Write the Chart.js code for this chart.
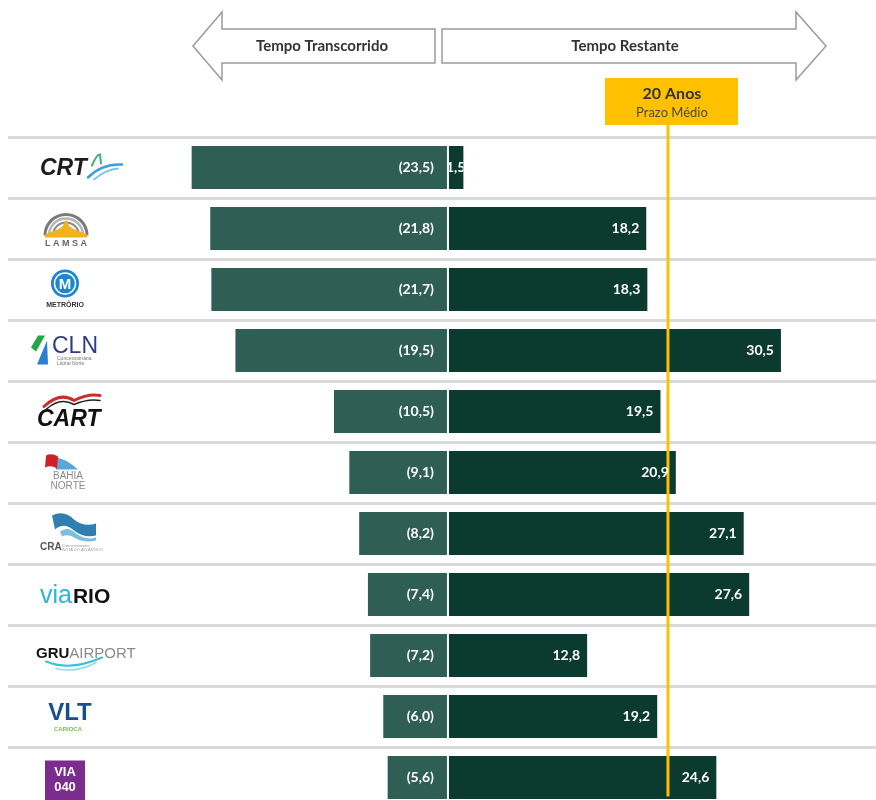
<!DOCTYPE html>
<html><head><meta charset="utf-8">
<script src="https://cdn.jsdelivr.net/npm/chart.js@4"></script>
<style>
html,body{margin:0;padding:0;background:#fff;overflow:hidden;height:800px}
#wrap{width:876px;height:800px;overflow:hidden;position:relative}
canvas{display:block}
</style></head><body><div id="wrap"><canvas id="c" width="876" height="808"></canvas></div>
<script>
const companies = ['CRT','LAMSA','MetrôRio','CLN','CART','Bahia Norte','CRA','ViaRio','GRU Airport','VLT Carioca','Via 040'];
const elapsedYears = [23.5,21.8,21.7,19.5,10.5,9.1,8.2,7.4,7.2,6.0,5.6];
const remainingYears = [1.5,18.2,18.3,30.5,19.5,20.9,27.1,27.6,12.8,19.2,24.6];
const averageTerm = 20;
const headerLabels = ['Tempo Transcorrido','Tempo Restante'];
const averageLabel = ['20 Anos','Prazo Médio'];

const fmt = v => v.toFixed(1).replace('.', ',');

function drawLogo(ctx, i, cy) {
  ctx.save();
  ctx.textBaseline = 'middle';
  ctx.textAlign = 'left';
  const F = '"Liberation Sans", Arial, sans-serif';
  switch (i) {
    case 0: { // CRT
      ctx.fillStyle = '#1d1d1d';
      ctx.font = 'italic bold 23px ' + F;
      ctx.fillText('CRT', 40, cy + 1);
      ctx.lineCap = 'round';
      ctx.strokeStyle = '#3a9fd8'; ctx.lineWidth = 2.5;
      ctx.beginPath(); ctx.moveTo(88, cy + 10); ctx.quadraticCurveTo(102, cy - 4, 122, cy - 3); ctx.stroke();
      ctx.strokeStyle = '#7cc3ea'; ctx.lineWidth = 1.8;
      ctx.beginPath(); ctx.moveTo(94, cy + 12); ctx.quadraticCurveTo(106, cy + 2, 118, cy + 1); ctx.stroke();
      ctx.strokeStyle = '#3bb273'; ctx.lineWidth = 2;
      ctx.beginPath(); ctx.moveTo(92, cy - 2); ctx.quadraticCurveTo(97, cy - 14, 100, cy - 13); ctx.lineTo(101, cy - 4); ctx.stroke();
      break;
    }
    case 1: { // LAMSA
      const x = 66, y = cy + 7;
      [[21, '#7a7a7a', 3], [17, '#b5b5b5', 2.5], [13, '#8a8a8a', 2], [9, '#c5c5c5', 2]].forEach(([r, c, lw]) => {
        ctx.strokeStyle = c; ctx.lineWidth = lw;
        ctx.beginPath(); ctx.arc(x, y, r, Math.PI, 2 * Math.PI); ctx.stroke();
      });
      ctx.fillStyle = '#f2b21b';
      ctx.beginPath(); ctx.moveTo(45, y - 1); ctx.lineTo(62, y - 8); ctx.lineTo(66, y - 16); ctx.lineTo(70, y - 8); ctx.lineTo(87, y - 1); ctx.lineTo(87, y + 2); ctx.lineTo(45, y + 2); ctx.closePath(); ctx.fill();
      ctx.fillStyle = '#666'; ctx.font = 'bold 9px ' + F; ctx.textAlign = 'center';
      ctx.fillText('L A M S A', x, cy + 15);
      break;
    }
    case 2: { // MetrôRio
      const x = 65, y = cy - 6;
      ctx.fillStyle = '#1c86d1'; ctx.beginPath(); ctx.arc(x, y, 14, 0, 2 * Math.PI); ctx.fill();
      ctx.strokeStyle = '#fff'; ctx.lineWidth = 1.5; ctx.beginPath(); ctx.arc(x, y, 10.5, 0, 2 * Math.PI); ctx.stroke();
      ctx.fillStyle = '#fff'; ctx.font = 'bold 15px ' + F; ctx.textAlign = 'center';
      ctx.fillText('M', x, y + 1);
      ctx.fillStyle = '#333'; ctx.font = 'bold 7px ' + F;
      ctx.fillText('METRÔRIO', x, cy + 16);
      break;
    }
    case 3: { // CLN
      ctx.fillStyle = '#22a845';
      ctx.beginPath(); ctx.moveTo(38, cy - 15); ctx.lineTo(45, cy - 15); ctx.lineTo(36, cy + 1); ctx.lineTo(31, cy - 3); ctx.closePath(); ctx.fill();
      ctx.fillStyle = '#2a7fd0';
      ctx.beginPath(); ctx.moveTo(47, cy - 10); ctx.lineTo(48, cy + 14); ctx.lineTo(37, cy + 14); ctx.closePath(); ctx.fill();
      ctx.fillStyle = '#2e3a8a'; ctx.font = '23px ' + F;
      ctx.fillText('CLN', 52, cy - 4);
      ctx.fillStyle = '#777'; ctx.font = '5px ' + F;
      ctx.fillText('Concessionária', 57, cy + 8);
      ctx.fillText('Litoral Norte', 57, cy + 13);
      break;
    }
    case 4: { // CART
      ctx.lineCap = 'round';
      ctx.strokeStyle = '#d12a2a'; ctx.lineWidth = 3;
      ctx.beginPath(); ctx.moveTo(44, cy - 5); ctx.quadraticCurveTo(60, cy - 20, 74, cy - 11); ctx.quadraticCurveTo(88, cy - 18, 100, cy - 16); ctx.stroke();
      ctx.strokeStyle = '#222'; ctx.lineWidth = 1.5;
      ctx.beginPath(); ctx.moveTo(46, cy - 2); ctx.quadraticCurveTo(60, cy - 15, 74, cy - 7); ctx.quadraticCurveTo(88, cy - 13, 100, cy - 11); ctx.stroke();
      ctx.fillStyle = '#111'; ctx.font = 'italic bold 23px ' + F;
      ctx.fillText('CART', 37, cy + 8);
      break;
    }
    case 5: { // Bahia Norte
      ctx.fillStyle = '#5aa7d8';
      ctx.beginPath(); ctx.moveTo(56, cy - 15); ctx.quadraticCurveTo(66, cy - 14, 78, cy - 3); ctx.lineTo(56, cy - 3); ctx.closePath(); ctx.fill();
      ctx.fillStyle = '#cf2027';
      ctx.beginPath(); ctx.moveTo(46, cy - 17); ctx.quadraticCurveTo(52, cy - 20, 58, cy - 16); ctx.lineTo(57, cy - 4); ctx.quadraticCurveTo(51, cy - 8, 45, cy - 5); ctx.closePath(); ctx.fill();
      ctx.fillStyle = '#8a8a8a'; ctx.font = '10px ' + F; ctx.textAlign = 'center';
      ctx.fillText('BAHIA', 68, cy + 4);
      ctx.fillText('NORTE', 68, cy + 14);
      break;
    }
    case 6: { // CRA
      ctx.fillStyle = '#2f7fb0';
      ctx.beginPath(); ctx.moveTo(52, cy - 18); ctx.quadraticCurveTo(64, cy - 24, 74, cy - 14); ctx.quadraticCurveTo(84, cy - 6, 96, cy - 10); ctx.lineTo(96, cy + 2); ctx.quadraticCurveTo(84, cy + 5, 74, cy - 3); ctx.quadraticCurveTo(64, cy - 12, 55, cy - 4); ctx.closePath(); ctx.fill();
      ctx.fillStyle = '#7dbde0';
      ctx.beginPath(); ctx.moveTo(60, cy - 2); ctx.quadraticCurveTo(68, cy - 8, 76, cy); ctx.quadraticCurveTo(86, cy + 7, 96, cy + 4); ctx.lineTo(96, cy + 7); ctx.quadraticCurveTo(84, cy + 10, 74, cy + 4); ctx.quadraticCurveTo(68, cy, 62, cy + 3); ctx.closePath(); ctx.fill();
      ctx.fillStyle = '#555'; ctx.font = 'bold 10px ' + F;
      ctx.fillText('CRA', 40, cy + 14);
      ctx.fillStyle = '#999'; ctx.font = '4px ' + F;
      ctx.fillText('Concessionária', 62, cy + 12);
      ctx.fillText('ROTA DO ATLÂNTICO', 62, cy + 16);
      break;
    }
    case 7: { // ViaRio
      ctx.fillStyle = '#2cb4d8'; ctx.font = '25px ' + F;
      ctx.fillText('via', 40, cy + 2);
      const w = ctx.measureText('via').width;
      ctx.fillStyle = '#111'; ctx.font = 'bold 21px ' + F;
      ctx.fillText('RIO', 40 + w + 1, cy + 3);
      break;
    }
    case 8: { // GRU Airport
      ctx.fillStyle = '#111'; ctx.font = 'bold 15px ' + F;
      ctx.fillText('GRU', 36, cy - 2);
      const w = ctx.measureText('GRU').width;
      ctx.fillStyle = '#8a8a8a'; ctx.font = '15px ' + F;
      ctx.fillText('AIRPORT', 36 + w, cy - 2);
      ctx.lineCap = 'round';
      ctx.strokeStyle = '#3cc0d8'; ctx.lineWidth = 2;
      ctx.beginPath(); ctx.moveTo(46, cy + 6); ctx.quadraticCurveTo(70, cy + 16, 102, cy + 2); ctx.stroke();
      ctx.strokeStyle = '#8fdcea'; ctx.lineWidth = 1.5;
      ctx.beginPath(); ctx.moveTo(56, cy + 13); ctx.quadraticCurveTo(76, cy + 18, 96, cy + 7); ctx.stroke();
      break;
    }
    case 9: { // VLT Carioca
      ctx.fillStyle = '#1a4f8f'; ctx.font = 'bold 24px ' + F; ctx.textAlign = 'center';
      ctx.fillText('VLT', 70, cy - 3);
      ctx.fillStyle = '#7ac143'; ctx.font = 'bold 6px ' + F;
      ctx.fillText('CARIOCA', 68, cy + 13);
      break;
    }
    case 10: { // Via 040
      ctx.fillStyle = '#7b2d8e';
      ctx.fillRect(45, cy - 17, 40, 42);
      ctx.fillStyle = '#fff'; ctx.font = 'bold 13px ' + F; ctx.textAlign = 'center';
      ctx.fillText('VIA', 65, cy - 5);
      ctx.fillText('040', 65, cy + 10);
      break;
    }
  }
  ctx.restore();
}

const logoPlugin = {
  id: 'logos',
  afterDraw(chart) {
    const y = chart.scales.y, ctx = chart.ctx;
    companies.forEach((c, i) => drawLogo(ctx, i, y.getPixelForValue(i)));
  }
};

const labelPlugin = {
  id: 'barLabels',
  afterDatasetsDraw(chart) {
    const ctx = chart.ctx, xs = chart.scales.x;
    const zero = xs.getPixelForValue(0);
    ctx.save();
    ctx.font = 'bold 14px Lato, "Open Sans", sans-serif';
    ctx.fillStyle = '#ffffff';
    ctx.textBaseline = 'middle';
    chart.getDatasetMeta(0).data.forEach((bar, i) => {
      ctx.textAlign = 'right';
      ctx.fillText('(' + fmt(elapsedYears[i]) + ')', zero - 14, bar.y);
    });
    // average line
    const lx = xs.getPixelForValue(averageTerm) + 1;
    const lastBar = chart.getDatasetMeta(1).data[remainingYears.length - 1];
    ctx.strokeStyle = '#FFC000'; ctx.lineWidth = 3;
    ctx.beginPath(); ctx.moveTo(lx, 124); ctx.lineTo(lx, lastBar.y + 19); ctx.stroke();
    chart.getDatasetMeta(1).data.forEach((bar, i) => {
      const txt = fmt(remainingYears[i]);
      const w = ctx.measureText(txt).width;
      if (w + 10 > bar.x - zero) {
        ctx.save();
        ctx.beginPath(); ctx.rect(zero - 3, bar.y - 20, bar.x - zero + 2, 40); ctx.clip();
        ctx.textAlign = 'left';
        ctx.fillText(txt, zero - 2, bar.y);
        ctx.restore();
      } else {
        ctx.textAlign = 'right';
        ctx.fillText(txt, bar.x - 8, bar.y);
      }
    });
    ctx.restore();
  }
};

const headerPlugin = {
  id: 'header',
  afterDraw(chart) {
    const ctx = chart.ctx, xs = chart.scales.x;
    ctx.save();
    ctx.strokeStyle = '#9a9a9a'; ctx.lineWidth = 1.5; ctx.fillStyle = '#fff';
    // left arrow
    ctx.beginPath();
    ctx.moveTo(435, 29); ctx.lineTo(222, 29); ctx.lineTo(222, 12); ctx.lineTo(193, 46);
    ctx.lineTo(222, 80); ctx.lineTo(222, 63); ctx.lineTo(435, 63); ctx.closePath();
    ctx.fill(); ctx.stroke();
    // right arrow
    ctx.beginPath();
    ctx.moveTo(442, 29); ctx.lineTo(796, 29); ctx.lineTo(796, 12); ctx.lineTo(826, 46);
    ctx.lineTo(796, 80); ctx.lineTo(796, 63); ctx.lineTo(442, 63); ctx.closePath();
    ctx.fill(); ctx.stroke();
    ctx.fillStyle = '#333'; ctx.font = 'bold 15px Lato, "Open Sans", sans-serif';
    ctx.textAlign = 'center'; ctx.textBaseline = 'middle';
    ctx.fillText(headerLabels[0], 322, 46);
    ctx.fillText(headerLabels[1], 625, 46);
    // average box
    const lx = xs.getPixelForValue(averageTerm) + 1;
    ctx.fillStyle = '#FFC000';
    ctx.fillRect(lx - 63, 78, 133, 47);
    ctx.fillStyle = '#333';
    ctx.font = 'bold 16px Lato, "Open Sans", sans-serif';
    ctx.fillText(averageLabel[0], lx + 4, 94);
    ctx.font = '13px Lato, "Open Sans", sans-serif';
    ctx.fillStyle = '#4a4a3a';
    ctx.fillText(averageLabel[1], lx + 4, 113);
    ctx.restore();
  }
};

new Chart(document.getElementById('c'), {
  type: 'bar',
  data: {
    labels: companies,
    datasets: [
      { label: 'Tempo Transcorrido', data: elapsedYears.map(v => -v), backgroundColor: '#2f5f54',
        borderColor: 'rgba(255,255,255,0.55)', borderWidth: 1, borderSkipped: false },
      { label: 'Tempo Restante', data: remainingYears, backgroundColor: '#0b3a2f',
        borderColor: 'rgba(255,255,255,0.55)', borderWidth: 1, borderSkipped: false }
    ]
  },
  options: {
    indexAxis: 'y',
    responsive: false,
    animation: false,
    devicePixelRatio: 1,
    layout: { padding: { top: 137, left: 8, right: 0, bottom: 0 } },
    plugins: { legend: { display: false }, tooltip: { enabled: false } },
    datasets: { bar: { categoryPercentage: 1, barPercentage: 0.74 } },
    scales: {
      x: { display: false, stacked: true, min: -40.18, max: 39.09 },
      y: { stacked: true, offset: true,
           ticks: { display: false },
           border: { display: false },
           grid: { offset: true, color: '#d9d9d9', lineWidth: 3, drawTicks: false } }
    }
  },
  plugins: [labelPlugin, headerPlugin, logoPlugin]
});
</script></body></html>
